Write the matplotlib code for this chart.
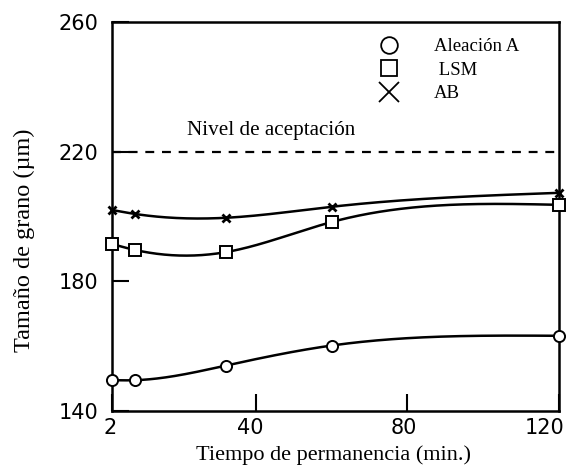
import numpy as np
import matplotlib
matplotlib.use("Agg")
import matplotlib.pyplot as plt
import matplotlib.transforms as mtransforms
from matplotlib.lines import Line2D

# tiempo de permanencia (min.)
tiempo = [2, 8, 32, 60, 120]

# tamaño de grano (µm) por material
aleacion_a = [149.5, 149.5, 154.0, 160.2, 163.2]
lsm = [191.5, 189.7, 189.0, 198.3, 203.6]
ab = [202.0, 200.8, 199.6, 203.0, 207.3]

nivel_aceptacion = 220

xticks = [2, 40, 80, 120]
yticks = [140, 180, 220, 260]

serif = "Liberation Serif"


def natural_spline(x, y, n=300):
    # spline cúbico natural para suavizar la curva entre puntos medidos
    x = np.asarray(x, float)
    y = np.asarray(y, float)
    k = len(x)
    h = np.diff(x)
    A = np.zeros((k, k))
    b = np.zeros(k)
    A[0, 0] = A[-1, -1] = 1
    for i in range(1, k - 1):
        A[i, i - 1] = h[i - 1]
        A[i, i] = 2 * (h[i - 1] + h[i])
        A[i, i + 1] = h[i]
        b[i] = 6 * ((y[i + 1] - y[i]) / h[i] - (y[i] - y[i - 1]) / h[i - 1])
    m = np.linalg.solve(A, b)
    xs = np.linspace(x[0], x[-1], n)
    idx = np.clip(np.searchsorted(x, xs) - 1, 0, k - 2)
    x0, x1 = x[idx], x[idx + 1]
    y0, y1 = y[idx], y[idx + 1]
    m0, m1 = m[idx], m[idx + 1]
    hh = x1 - x0
    t0 = x1 - xs
    t1 = xs - x0
    ys = (m0 * t0**3 + m1 * t1**3) / (6 * hh) + (y0 / hh - m0 * hh / 6) * t0 + (y1 / hh - m1 * hh / 6) * t1
    return xs, ys


fig = plt.figure(figsize=(5.71, 4.71), dpi=100)
ax = fig.add_axes([112 / 571, 60 / 471, 447 / 571, 389 / 471])

series = [
    (aleacion_a, "o", 8, "Aleación A"),
    (lsm, "s", 8.5, " LSM"),
    (ab, "x", 6, "AB"),
]
for vals, mk, ms, lab in series:
    xs, ys = natural_spline(tiempo, vals)
    ax.plot(xs, ys, color="black", lw=1.8, zorder=2)
    ax.plot(tiempo, vals, ls="none", marker=mk, ms=ms, mfc="white", mec="black",
            mew=1.4 if mk != "x" else 2.0, zorder=3, clip_on=False)

ax.axhline(nivel_aceptacion, color="black", lw=1.6, dashes=(4, 3.5), zorder=1)
ax.text(21.8, 225.1, "Nivel de aceptación", family=serif, fontsize=15.2, va="baseline")

ax.set_xlim(2, 120)
ax.set_ylim(140, 260)
ax.set_xticks(xticks)
ax.set_yticks(yticks)
ax.tick_params(direction="in", length=12, width=1.5, labelsize=15, colors="black")
ax.tick_params(axis="y", pad=10)
ax.tick_params(axis="x", pad=5)
for sp in ax.spines.values():
    sp.set_linewidth(1.8)

# las etiquetas del eje x van algo corridas a la izquierda de su marca
shifts = [-2, -6, -4, -14]
for lbl, dx in zip(ax.get_xticklabels(), shifts):
    lbl.set_transform(lbl.get_transform() + mtransforms.ScaledTranslation(dx / 100, 0, fig.dpi_scale_trans))

handles = [
    Line2D([], [], ls="none", marker="o", ms=12, mfc="white", mec="black", mew=1.3),
    Line2D([], [], ls="none", marker="s", ms=12, mfc="white", mec="black", mew=1.3),
    Line2D([], [], ls="none", marker="x", ms=14, mec="black", mew=1.3),
]
ax.legend(handles, [s[3] for s in series], loc="upper left",
          bbox_to_anchor=(381 / 571, 1 - 38 / 471), bbox_transform=fig.transFigure,
          frameon=False, borderpad=0, borderaxespad=0, handlelength=0.9,
          handletextpad=1.9, labelspacing=0.35, prop={"family": serif, "size": 13.5})

fig.text(24 / 571, 1 - 240 / 471, "Tamaño de grano (µm)", family=serif, fontsize=17.5,
         rotation=90, ha="center", va="center")
fig.text(333 / 571, 1 - 460 / 471, "Tiempo de permanencia (min.)", family=serif,
         fontsize=16, ha="center", va="baseline")

fig.savefig("out.png", dpi=100)
